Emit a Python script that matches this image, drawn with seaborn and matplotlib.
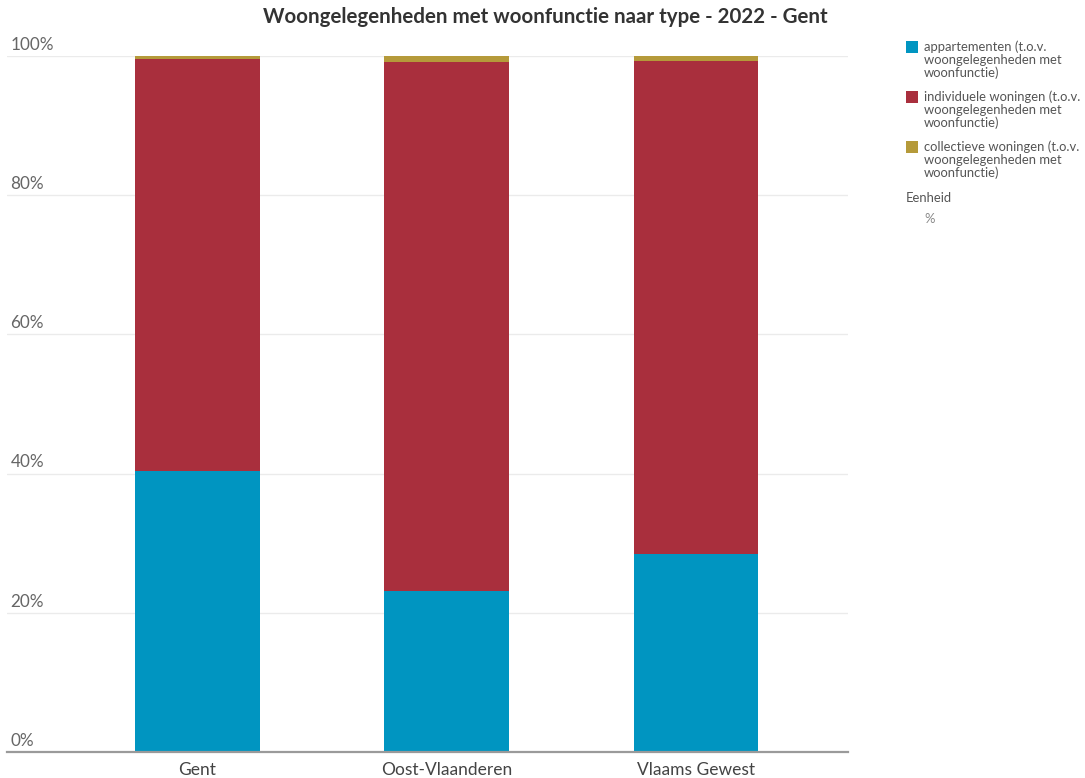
import matplotlib
matplotlib.use("Agg")
import matplotlib.pyplot as plt
import matplotlib.transforms as mtransforms
from matplotlib.patches import Rectangle
import numpy as np
import seaborn as sns

# Share of dwellings with a residential function, by type (2022)
regions = ["Gent", "Oost-Vlaanderen", "Vlaams Gewest"]
appartementen = [40.4, 23.1, 28.5]
individuele = [59.2, 76.1, 70.8]
collectieve = [0.4, 0.8, 0.7]

series_labels = [
    "appartementen (t.o.v.\nwoongelegenheden met\nwoonfunctie)",
    "individuele woningen (t.o.v.\nwoongelegenheden met\nwoonfunctie)",
    "collectieve woningen (t.o.v.\nwoongelegenheden met\nwoonfunctie)",
]
colors = ["#0095c1", "#a92f3d", "#b59a3a"]
y_ticks = [0, 20, 40, 60, 80, 100]
title = "Woongelegenheden met woonfunctie naar type - 2022 - Gent"

sns.set_theme(style="white")
plt.rcParams["font.family"] = ["Lato", "DejaVu Sans"]

W, H = 1085, 778
fig = plt.figure(figsize=(W / 100, H / 100), dpi=100)
ax = fig.add_axes([0.0065, 0.0334, 0.775, 0.8946])

# Stacked bars: draw cumulative totals from the top layer down
layers = [appartementen, individuele, collectieve]
cum = np.cumsum(np.array(layers), axis=0)
for i in range(len(layers) - 1, -1, -1):
    sns.barplot(x=regions, y=cum[i], color=colors[i], width=0.5,
                saturation=1, ax=ax, zorder=3, edgecolor="none")

ax.set_xlim(-0.764, 2.61)
ax.set_ylim(0, 100)
ax.set_xlabel("")
ax.set_ylabel("")

# Horizontal grid with labels sitting above each line
ax.set_yticks(y_ticks)
ax.set_yticklabels([])
ax.tick_params(axis="y", length=0)
for t in y_ticks[1:]:
    ax.axhline(t, color="#ebebeb", lw=1.0, zorder=1)
trans = mtransforms.blended_transform_factory(ax.transAxes, ax.transData)
for t in y_ticks:
    ax.text(0.004, t + 0.45, f"{t}%", transform=trans, ha="left", va="bottom",
            fontsize=12.3, color="#666666", clip_on=False)

ax.tick_params(axis="x", length=0, pad=7, labelsize=12.5, labelcolor="#444444")

for side in ["top", "right", "left"]:
    ax.spines[side].set_visible(False)
ax.spines["bottom"].set_color("#9a9a9a")
ax.spines["bottom"].set_linewidth(1.6)
ax.spines["bottom"].set_zorder(4)

fig.text(545 / W, 1 - 17 / H, title, ha="center", va="center",
         fontsize=14.8, fontweight="bold", color="#333333")

# Legend: colour square next to the first line of each wrapped label
legend_fs = 9.4
entry_tops = [47, 97, 147]
for color, label, y in zip(colors, series_labels, entry_tops):
    fig.patches.append(Rectangle((906 / W, 1 - (y + 6) / H), 12 / W, 12 / H,
                                 transform=fig.transFigure, facecolor=color,
                                 edgecolor="none"))
    fig.text(924 / W, 1 - (y - 7) / H, label, ha="left", va="top",
             fontsize=legend_fs, color="#555555", linespacing=1.1)

fig.text(906 / W, 1 - 198 / H, "Eenheid", ha="left", va="center",
         fontsize=legend_fs, color="#555555")
fig.text(924 / W, 1 - 219 / H, "%", ha="left", va="center",
         fontsize=legend_fs, color="#888888")

fig.savefig("out.png", dpi=100)
